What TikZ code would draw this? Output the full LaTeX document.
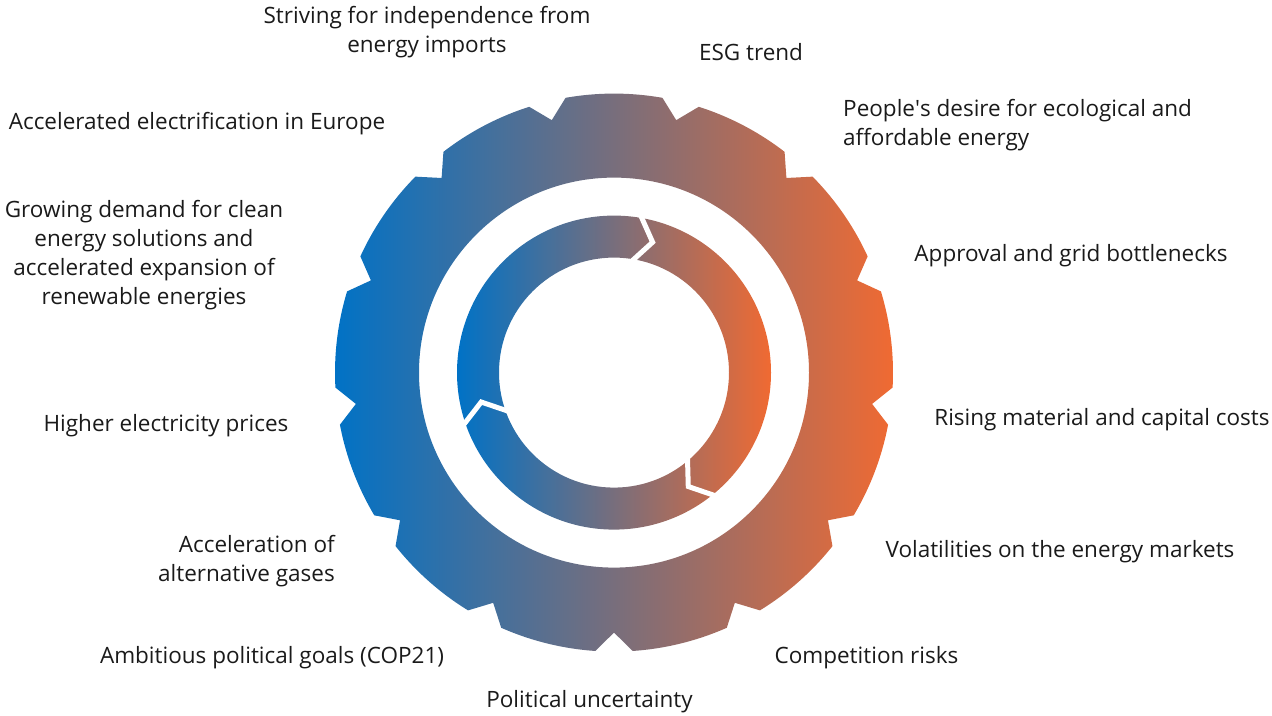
\documentclass[tikz,border=0pt]{standalone}
\usepackage{fontspec}
\setmainfont{Open Sans}
\definecolor{gblue}{RGB}{0,114,198}
\definecolor{gorange}{RGB}{240,106,50}
\definecolor{txt}{RGB}{26,26,26}
\begin{document}
\begin{tikzpicture}[x=1pt,y=1pt,
  lbl/.style={text=txt, font=\fontsize{22.5}{29}\selectfont, inner sep=0pt},
  sep/.style={draw=white, line width=5pt, line join=miter}]
\useasboundingbox (0,0) rectangle (1272,715);
\begin{scope}[shift={(614,342.4)}]
  % gear
  \shade[even odd rule, left color=gblue, right color=gorange]
    (76.154:260) \foreach \k in {0,...,12}{
      -- ({90+\k*27.6923-10}:279)
      arc[start angle={90+\k*27.6923-10}, delta angle=20, radius=279]
      -- ({90+\k*27.6923+13.846}:260) } -- cycle
    (0,0) circle[radius=195];
  % inner ring of arrows
  \shade[even odd rule, left color=gblue, right color=gorange]
    (0,0) circle[radius=157] (0,0) circle[radius=115];
  \draw[sep] (81.2:163) -- (73.5:136) -- (82.6:109);
  \draw[sep] (200:163) -- (192.5:136) -- (201.6:109);
  \draw[sep] (310.2:163) -- (303.1:136) -- (312.3:109);
\end{scope}
\node[lbl, align=center] (l1) at (427,683) {Striving for independence from\\energy imports};
\node[lbl] (l2) at (751,663) {ESG trend};
\node[lbl] (l3) at (197,591) {Accelerated electrification in Europe};
\node[lbl, align=left, anchor=west] (l4) at (843,590) {People\textquotesingle s desire for ecological and\\affordable energy};
\node[lbl, align=center] (l5) at (144,459.5) {Growing demand for clean\\energy solutions and\\accelerated expansion of\\renewable energies};
\node[lbl] (l6) at (1071,459) {Approval and grid bottlenecks};
\node[lbl] (l7) at (166,289) {Higher electricity prices};
\node[lbl] (l8) at (1102,295) {Rising material and capital costs};
\node[lbl, align=right, anchor=east] (l9) at (335,153.5) {Acceleration of\\alternative gases};
\node[lbl] (l10) at (1060,163) {Volatilities on the energy markets};
\node[lbl] (l11) at (272,57) {Ambitious political goals (COP21)};
\node[lbl] (l12) at (866.5,57) {Competition risks};
\node[lbl] (l13) at (589.5,13) {Political uncertainty};
\end{tikzpicture}
\end{document}
